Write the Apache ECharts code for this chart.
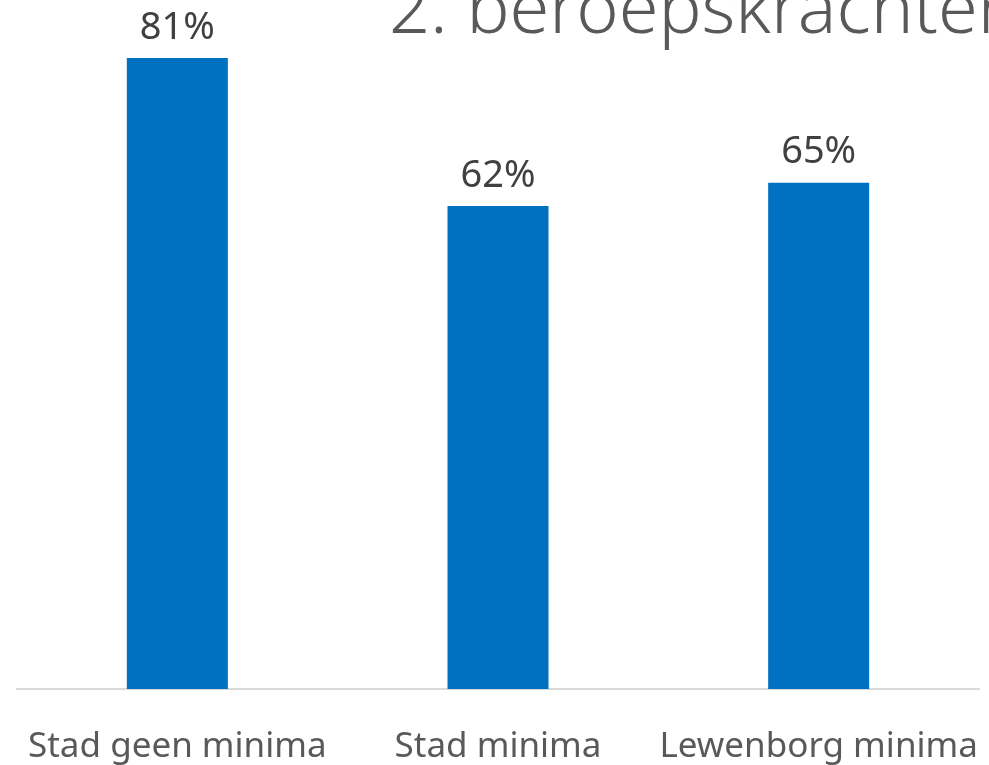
<!DOCTYPE html>
<html>
<head>
<meta charset="utf-8">
<script src="https://cdn.jsdelivr.net/npm/echarts@6/dist/echarts.min.js"></script>
<style>
html,body{margin:0;padding:0;background:#fff;}
#chart{width:989px;height:765px;}
</style>
</head>
<body>
<div id="chart"></div>
<script>
const titleText = '2. beroepskrachten';
const categories = ['Stad geen minima', 'Stad minima', 'Lewenborg minima'];
const values = [81, 62, 65];

const chart = echarts.init(document.getElementById('chart'), null, {renderer: 'canvas'});
chart.setOption({
  animation: false,
  backgroundColor: '#ffffff',
  graphic: [{
    type: 'text',
    left: 389,
    top: -24,
    style: {
      text: titleText,
      fontSize: 72,
      fontFamily: 'Noto Sans',
      fontWeight: 300,
      fill: '#595959'
    }
  }],
  grid: {left: 17, right: 10, top: 0, bottom: 76, containLabel: false},
  xAxis: {
    type: 'category',
    data: categories,
    axisLine: {show: true, lineStyle: {color: '#d9d9d9', width: 2}},
    axisTick: {show: false},
    axisLabel: {
      color: '#595959',
      fontSize: 35,
      fontFamily: 'Noto Sans',
      margin: 41,
      interval: 0
    }
  },
  yAxis: {
    type: 'value',
    min: 0,
    max: 88.45,
    show: false,
    splitLine: {show: false}
  },
  series: [{
    type: 'bar',
    data: values,
    barWidth: 101,
    itemStyle: {color: '#0070c0'},
    label: {
      show: true,
      position: 'top',
      distance: 11,
      formatter: '{c}%',
      color: '#404040',
      fontSize: 38,
      fontFamily: 'Noto Sans'
    }
  }]
});
</script>
</body>
</html>
